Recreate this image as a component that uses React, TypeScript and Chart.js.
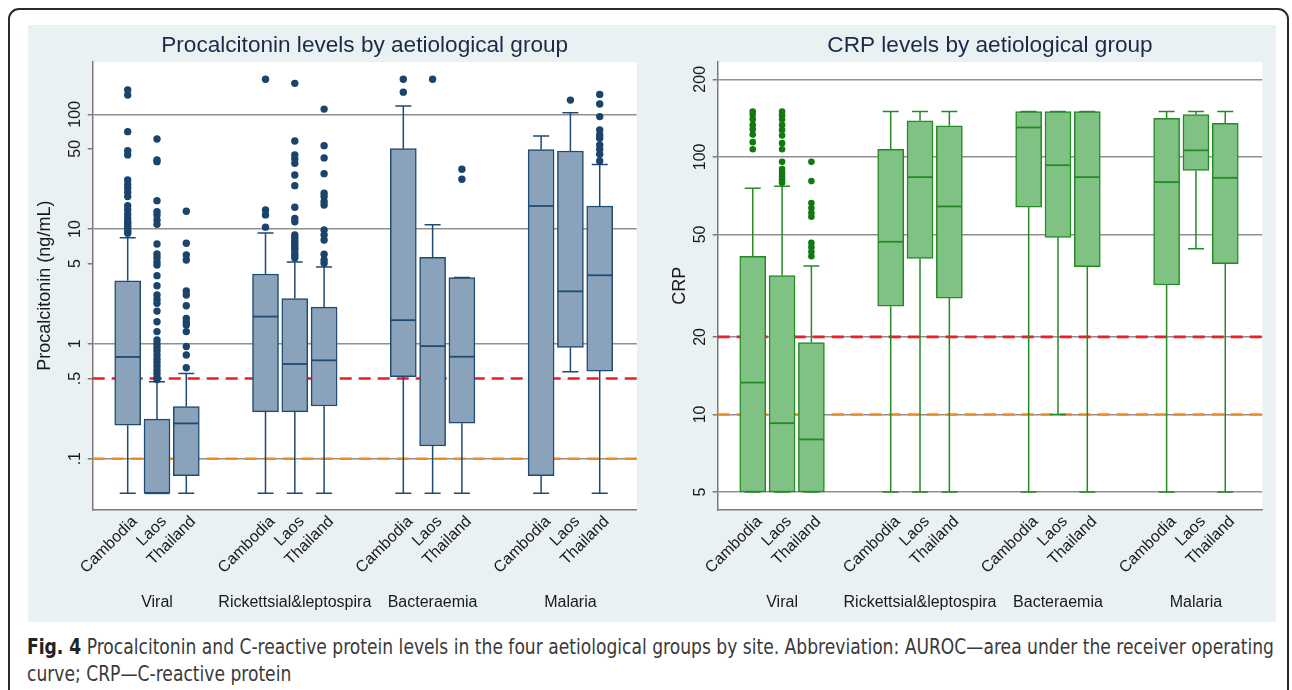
import React, { useEffect, useRef } from "react";
import { Chart, registerables } from "chart.js";

Chart.register(...registerables);

// ---------------- data ----------------
const GROUPS = ["Viral", "Rickettsial&leptospira", "Bacteraemia", "Malaria"];
const SITES = ["Cambodia", "Laos", "Thailand"];

// Procalcitonin (ng/mL): 12 boxes, group by group, sites Cambodia / Laos / Thailand
const PCT_LOW = [0.05, 0.05, 0.05, 0.05, 0.05, 0.05, 0.05, 0.05, 0.05, 0.05, 0.573, 0.05];
const PCT_Q1 = [0.196, 0.05, 0.071, 0.256, 0.256, 0.288, 0.518, 0.129, 0.204, 0.071, 0.933, 0.58];
const PCT_MEDIAN = [0.77, 0.05, 0.203, 1.73, 0.668, 0.719, 1.61, 0.957, 0.773, 15.9, 2.87, 3.96];
const PCT_Q3 = [3.55, 0.221, 0.284, 4.06, 2.48, 2.09, 50.2, 5.68, 3.78, 49.2, 47.9, 15.9];
const PCT_HIGH = [8.4, 0.469, 0.553, 9.25, 5.17, 4.68, 118, 10.9, 3.78, 64.7, 103, 36.6];
const PCT_OUTLIERS = [
  [163, 147, 70.6, 48.2, 44.3, 26.8, 24.5, 22.7, 20.9, 19.2, 16, 14.7, 13.4, 12.4, 11.6, 11.2, 10.6, 10.2, 9.6, 9.2],
  [61, 40, 38.7, 17.7, 14.2, 13.3, 12, 11, 7.42, 6.07, 5.67, 5.2, 4.87, 3.93, 3.21, 2.67, 2.44, 2.26, 1.93, 1.56, 1.28, 1.08, 1.0, 0.93, 0.87, 0.8, 0.74, 0.69, 0.64, 0.59, 0.55, 0.51, 0.49],
  [14.3, 7.52, 5.95, 5.38, 2.89, 2.67, 2.15, 1.67, 1.56, 1.46, 1.28, 0.95, 0.8, 0.62],
  [202, 14.7, 13.3, 10.4],
  [186, 58.6, 44.3, 40.8, 37.4, 29.6, 23.9, 15.5, 12.4, 11.6, 8.9, 8.4, 8.0, 7.6, 7.3, 6.9, 6.6, 6.2, 5.9, 5.6],
  [111, 53.3, 41.7, 30.4, 20.5, 19.2, 17.4, 16.2, 9.83, 8.89, 8.04, 6.03, 5.38, 5.04],
  [202, 156],
  [202],
  [33.2, 27.2],
  [],
  [133],
  [149, 123, 95.5, 73, 66, 61.8, 54, 49.5, 44.8, 39.2],
];
const PCT_TICKS = [0.1, 0.5, 1, 5, 10, 50, 100];
const PCT_TICK_LABELS = [".1", ".5", "1", "5", "10", "50", "100"];
const PCT_GRID_AT = [0.1, 1, 10, 100];
const PCT_CUTOFFS = [0.5, 0.1];

// CRP (mg/L)
const CRP_LOW = [5, 5, 5, 5, 5, 5, 5, 10, 5, 5, 44, 5];
const CRP_Q1 = [5, 5, 5, 26.3, 40.3, 28.3, 63.8, 48.7, 37.5, 31.8, 88.5, 38.5];
const CRP_MEDIAN = [13.3, 9.25, 8.0, 46.8, 83.4, 64.2, 130, 92.8, 83.4, 79.8, 106, 82.9];
const CRP_Q3 = [41.1, 34.6, 19.0, 107, 138, 132, 150, 150, 150, 141, 146, 135];
const CRP_HIGH = [75.5, 76.9, 37.7, 150, 150, 150, 150, 150, 150, 150, 150, 150];
const CRP_OUTLIERS = [
  [150, 146, 140, 133, 128, 122, 114, 107],
  [150, 145, 140, 133, 127, 121, 113, 107, 95.6, 89.6, 86.7, 84.1, 81.6, 79.3],
  [95.6, 80.5, 66.2, 63.3, 60.6, 58.5, 46.4, 44.6, 42.8, 41.1],
  [], [], [], [], [], [], [], [], [],
];
const CRP_TICKS = [5, 10, 20, 50, 100, 200];
const CRP_TICK_LABELS = ["5", "10", "20", "50", "100", "200"];
const CRP_GRID_AT = [5, 10, 20, 50, 100, 200];
const CRP_CUTOFFS = [20, 10];

const CAPTION_BOLD = "Fig. 4";
const CAPTION_LINE1 =
  " Procalcitonin and C-reactive protein levels in the four aetiological groups by site. Abbreviation: AUROC\u2014area under the receiver operating";
const CAPTION_LINE2 = "curve; CRP\u2014C-reactive protein";

// ---------------- layout / style ----------------
const SITE_OFFSET = 0.2126;
const X_MIN = -0.4666;
const X_MAX = 3.481;
const xPos = (i: number) => Math.floor(i / 3) + ((i % 3) - 1) * SITE_OFFSET;

const FONT = "'Liberation Sans', Arial, Helvetica, sans-serif";
const TEXT = "#1a1a1a";
const AXIS = "#7a7a7a";
const GRID = "#8f8f8f";
const CUT_COLORS = ["#ee1c25", "#f28a1e"];
const PANEL_BG = "#eaf1f3";
const CANVAS_W = 624;
const CANVAS_H = 597;
const CAPTION_WIDTH = 1247;

type Spec = {
  title: string;
  yTitle: string;
  yTitlePad: number;
  low: number[];
  q1: number[];
  med: number[];
  q3: number[];
  high: number[];
  outliers: number[][];
  ticks: number[];
  tickLabels: string[];
  gridAt: number[];
  cutoffs: number[];
  yMin: number;
  yMax: number;
  fill: string;
  line: string;
  dot: string;
  dotR: number;
  padRight: number;
  yAxisWidth: number;
};

function makePlugin(spec: Spec) {
  return {
    id: "boxExtras",
    beforeDraw(chart: any) {
      const { ctx, chartArea: a } = chart;
      ctx.save();
      ctx.fillStyle = "#ffffff";
      ctx.fillRect(a.left, a.top, a.right - a.left, a.bottom - a.top);
      ctx.restore();
    },
    beforeDatasetsDraw(chart: any) {
      const { ctx, chartArea: a, scales } = chart;
      const y = scales.y;
      const x = scales.x;
      ctx.save();
      ctx.lineWidth = 2.6;
      ctx.setLineDash([12, 7]);
      spec.cutoffs.forEach((v, k) => {
        const py = y.getPixelForValue(v);
        ctx.strokeStyle = CUT_COLORS[k];
        ctx.beginPath();
        ctx.moveTo(a.left, py);
        ctx.lineTo(a.right, py);
        ctx.stroke();
      });
      ctx.setLineDash([]);
      ctx.strokeStyle = spec.line;
      ctx.lineWidth = 1.5;
      const cap = 8;
      spec.low.forEach((lo, i) => {
        const px = x.getPixelForValue(xPos(i));
        const pLo = y.getPixelForValue(lo);
        const pQ1 = y.getPixelForValue(spec.q1[i]);
        const pQ3 = y.getPixelForValue(spec.q3[i]);
        const pHi = y.getPixelForValue(spec.high[i]);
        ctx.beginPath();
        ctx.moveTo(px, pQ1);
        ctx.lineTo(px, pLo);
        ctx.moveTo(px - cap, pLo);
        ctx.lineTo(px + cap, pLo);
        ctx.moveTo(px, pQ3);
        ctx.lineTo(px, pHi);
        ctx.moveTo(px - cap, pHi);
        ctx.lineTo(px + cap, pHi);
        ctx.stroke();
      });
      ctx.restore();
    },
    afterDatasetsDraw(chart: any) {
      const { ctx, scales } = chart;
      const y = scales.y;
      const x = scales.x;
      ctx.save();
      ctx.strokeStyle = spec.line;
      ctx.lineWidth = 1.8;
      spec.med.forEach((m, i) => {
        const px = x.getPixelForValue(xPos(i));
        const py = y.getPixelForValue(m);
        ctx.beginPath();
        ctx.moveTo(px - 12.5, py);
        ctx.lineTo(px + 12.5, py);
        ctx.stroke();
      });
      ctx.restore();
    },
    afterDraw(chart: any) {
      const { ctx, chartArea: a } = chart;
      ctx.save();
      ctx.font = `22.6px ${FONT}`;
      ctx.fillStyle = "#1b2a4a";
      ctx.textAlign = "center";
      ctx.textBaseline = "middle";
      ctx.fillText(spec.title, (a.left + a.right) / 2, 21);
      ctx.restore();
    },
  };
}

function buildConfig(spec: Spec): any {
  const boxData = spec.q1.map((v, i) => ({ x: xPos(i), y: [v, spec.q3[i]] }));
  const dotData = spec.outliers.flatMap((arr, i) => arr.map((v) => ({ x: xPos(i), y: v })));
  return {
    type: "bar",
    data: {
      datasets: [
        {
          type: "bar",
          label: "IQR",
          data: boxData,
          backgroundColor: spec.fill,
          borderColor: spec.line,
          borderWidth: 1.5,
          borderSkipped: false,
          barThickness: 26,
          order: 2,
        },
        {
          type: "scatter",
          label: "outliers",
          data: dotData,
          backgroundColor: spec.dot,
          borderWidth: 0,
          pointRadius: spec.dotR,
          order: 1,
        },
      ],
    },
    options: {
      animation: false,
      responsive: false,
      events: [],
      layout: { padding: { left: 0, top: 37, right: spec.padRight, bottom: 2.7 } },
      plugins: { legend: { display: false }, tooltip: { enabled: false }, title: { display: false } },
      scales: {
        x: {
          type: "linear",
          position: "bottom",
          min: X_MIN,
          max: X_MAX,
          offset: false,
          weight: 0,
          afterBuildTicks: (s: any) => {
            s.ticks = spec.q1.map((_, i) => ({ value: xPos(i) }));
          },
          afterFit: (s: any) => {
            s.height = 70;
          },
          ticks: {
            autoSkip: false,
            minRotation: 45,
            maxRotation: 45,
            padding: 3,
            labelOffset: 7,
            color: TEXT,
            font: { family: FONT, size: 16 },
            callback: (_v: any, i: number) => SITES[i % 3],
          },
          grid: { display: false, drawTicks: false, offset: false },
          border: { display: true, color: AXIS, width: 1.5 },
        },
        xg: {
          type: "linear",
          position: "bottom",
          axis: "x",
          min: X_MIN,
          max: X_MAX,
          offset: false,
          weight: 1,
          afterBuildTicks: (s: any) => {
            s.ticks = GROUPS.map((_, g) => ({ value: g }));
          },
          afterFit: (s: any) => {
            s.height = 40;
          },
          ticks: {
            autoSkip: false,
            minRotation: 0,
            maxRotation: 0,
            padding: 13.5,
            color: TEXT,
            font: { family: FONT, size: 16 },
            callback: (_v: any, i: number) => GROUPS[i],
          },
          grid: { display: false, drawTicks: false },
          border: { display: false },
        },
        y: {
          type: "logarithmic",
          min: spec.yMin,
          max: spec.yMax,
          bounds: "data",
          afterBuildTicks: (s: any) => {
            s.ticks = spec.ticks.map((v) => ({ value: v }));
          },
          afterFit: (s: any) => {
            s.width = spec.yAxisWidth;
          },
          ticks: {
            autoSkip: false,
            minRotation: 90,
            maxRotation: 90,
            crossAlign: "center",
            padding: -1.5,
            color: TEXT,
            font: { family: FONT, size: 16 },
            callback: (_v: any, i: number) => spec.tickLabels[i],
          },
          grid: {
            color: (c: any) => (c.tick && spec.gridAt.includes(c.tick.value) ? GRID : "rgba(0,0,0,0)"),
            lineWidth: 1.5,
            tickColor: AXIS,
            tickLength: 5,
            drawTicks: true,
          },
          border: { display: true, color: AXIS, width: 1.5 },
          title: {
            display: true,
            text: spec.yTitle,
            color: TEXT,
            font: { family: FONT, size: 18 },
            padding: { top: spec.yTitlePad, bottom: 0 },
          },
        },
      },
    },
    plugins: [makePlugin(spec)],
  };
}

const PCT_SPEC: Spec = {
  title: "Procalcitonin levels by aetiological group",
  yTitle: "Procalcitonin (ng/mL)",
  yTitlePad: 6.5,
  low: PCT_LOW,
  q1: PCT_Q1,
  med: PCT_MEDIAN,
  q3: PCT_Q3,
  high: PCT_HIGH,
  outliers: PCT_OUTLIERS,
  ticks: PCT_TICKS,
  tickLabels: PCT_TICK_LABELS,
  gridAt: PCT_GRID_AT,
  cutoffs: PCT_CUTOFFS,
  yMin: 0.03624,
  yMax: 285.5,
  fill: "#8ba3ba",
  line: "#1f4a72",
  dot: "#1a446c",
  dotR: 3.7,
  padRight: 15.3,
  yAxisWidth: 64.7,
};

const CRP_SPEC: Spec = {
  title: "CRP levels by aetiological group",
  yTitle: "CRP",
  yTitlePad: 17.5,
  low: CRP_LOW,
  q1: CRP_Q1,
  med: CRP_MEDIAN,
  q3: CRP_Q3,
  high: CRP_HIGH,
  outliers: CRP_OUTLIERS,
  ticks: CRP_TICKS,
  tickLabels: CRP_TICK_LABELS,
  gridAt: CRP_GRID_AT,
  cutoffs: CRP_CUTOFFS,
  yMin: 4.284,
  yMax: 233.4,
  fill: "#80c283",
  line: "#258a25",
  dot: "#107a10",
  dotR: 3.3,
  padRight: 13.7,
  yAxisWidth: 65.7,
};

function BoxChart({ spec, left }: { spec: Spec; left: number }) {
  const ref = useRef<HTMLCanvasElement | null>(null);
  useEffect(() => {
    const chart = new Chart(ref.current as HTMLCanvasElement, buildConfig(spec));
    return () => chart.destroy();
  }, [spec]);
  return (
    <canvas
      ref={ref}
      width={CANVAS_W}
      height={CANVAS_H}
      style={{ position: "absolute", left, top: 0, width: CANVAS_W, height: CANVAS_H }}
    />
  );
}

function Caption() {
  const boxRef = useRef<HTMLDivElement | null>(null);
  const lineRef = useRef<HTMLSpanElement | null>(null);
  useEffect(() => {
    const box = boxRef.current;
    const line = lineRef.current;
    if (!box || !line) return;
    const w = line.getBoundingClientRect().width;
    if (w > 0) box.style.transform = `scaleX(${CAPTION_WIDTH / w})`;
  }, []);
  return (
    <div
      ref={boxRef}
      style={{
        position: "absolute",
        left: 27,
        top: 634,
        fontFamily: "'Liberation Sans Narrow', 'DejaVu Sans Condensed', 'Arial Narrow', sans-serif",
        fontSize: 21,
        lineHeight: "27px",
        color: "#3a3a3a",
        whiteSpace: "nowrap",
        transformOrigin: "0 0",
      }}
    >
      <span ref={lineRef} style={{ display: "inline-block" }}>
        <span style={{ fontWeight: "bold", color: "#222" }}>{CAPTION_BOLD}</span>
        {CAPTION_LINE1}
      </span>
      <br />
      {CAPTION_LINE2}
    </div>
  );
}

export default function App() {
  return (
    <div
      style={{
        position: "absolute",
        left: 0,
        top: 0,
        width: 1292,
        height: 690,
        overflow: "hidden",
        background: "#ffffff",
      }}
    >
      <div
        style={{
          position: "absolute",
          left: 8,
          top: 8,
          width: 1281,
          height: 720,
          border: "2px solid #2a2a2a",
          borderRadius: 11,
          boxSizing: "border-box",
        }}
      />
      <div
        style={{
          position: "absolute",
          left: 28,
          top: 25,
          width: 1248,
          height: CANVAS_H,
          background: PANEL_BG,
        }}
      >
        <BoxChart spec={PCT_SPEC} left={0} />
        <BoxChart spec={CRP_SPEC} left={624} />
      </div>
      <Caption />
    </div>
  );
}
